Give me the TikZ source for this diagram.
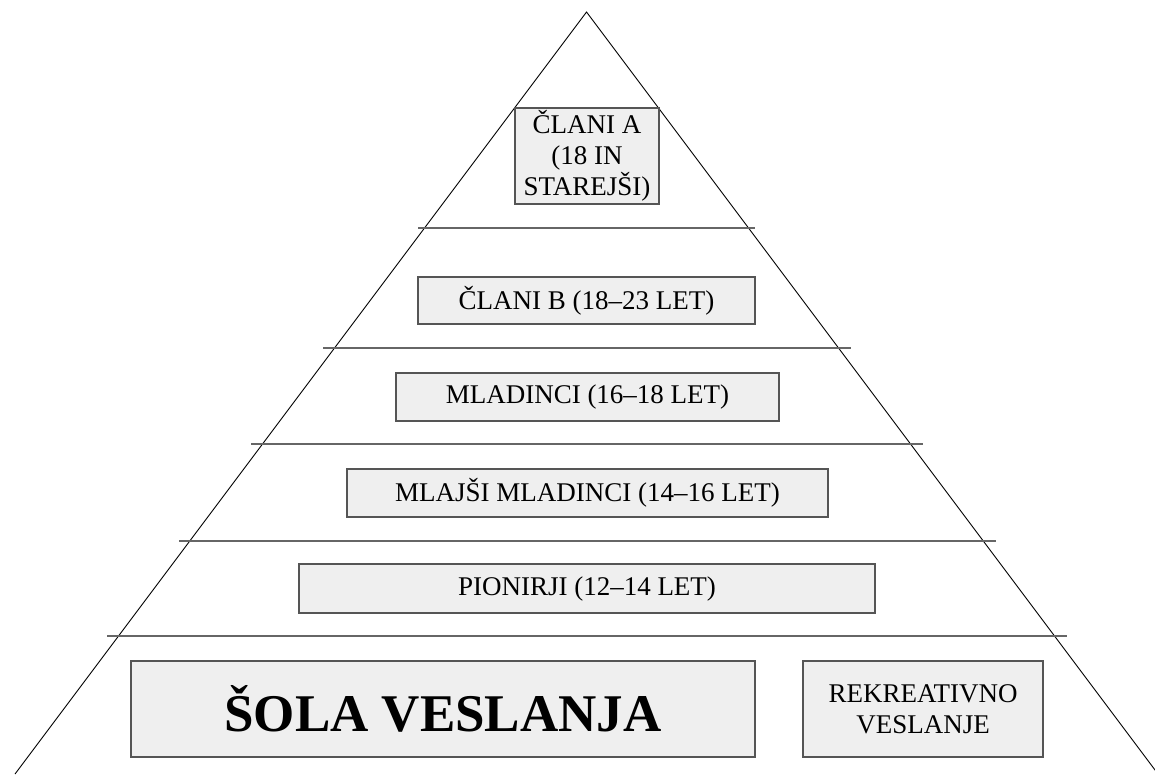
\documentclass[tikz,border=0pt]{standalone}
\usepackage{fontspec}
\setmainfont{Liberation Serif}
\definecolor{boxfill}{HTML}{EFEFEF}
\definecolor{boxedge}{HTML}{555555}
\definecolor{tierline}{HTML}{666666}
\begin{document}
\begin{tikzpicture}[x=1pt,y=-1pt,
  tier/.style={draw=boxedge,fill=boxfill,line width=1.3pt,inner sep=0pt,
    font=\fontsize{27}{31}\selectfont,align=center},
  divider/.style={draw=tierline,line width=1.4pt},
  pyr/.style={draw=black,line width=0.9pt}]
\useasboundingbox (0,0) rectangle (1155,774);
\begin{scope}
\clip (0,0) rectangle (1155,774);
\draw[pyr] (15,774) -- (586.5,12) -- (1158,774);
\end{scope}
\draw[divider] (418,228) -- (755,228);
\draw[divider] (323,348) -- (851,348);
\draw[divider] (251,444) -- (923,444);
\draw[divider] (179,541) -- (996,541);
\draw[divider] (107,636) -- (1067,636);
\node[tier,minimum width=144pt,minimum height=96pt] (clania) at (587,156) {ČLANI A\\(18 IN\\STAREJŠI)};
\node[tier,minimum width=337pt,minimum height=47pt] (clanib) at (586.5,300.5) {ČLANI B (18–23 LET)};
\node[tier,minimum width=383pt,minimum height=48pt] (mladinci) at (587.5,397) {MLADINCI (16–18 LET)};
\node[tier,minimum width=481pt,minimum height=48pt] (mlajsi) at (587.5,493) {MLAJŠI MLADINCI (14–16 LET)};
\node[tier,minimum width=576pt,minimum height=49pt] (pionirji) at (587,588.5) {PIONIRJI (12–14 LET)};
\node[tier,minimum width=624pt,minimum height=96pt,font=\fontsize{53}{60}\selectfont\bfseries] (sola) at (443,709) {ŠOLA VESLANJA};
\node[tier,minimum width=240pt,minimum height=96pt] (rekre) at (923,709) {REKREATIVNO\\VESLANJE};
\end{tikzpicture}
\end{document}
